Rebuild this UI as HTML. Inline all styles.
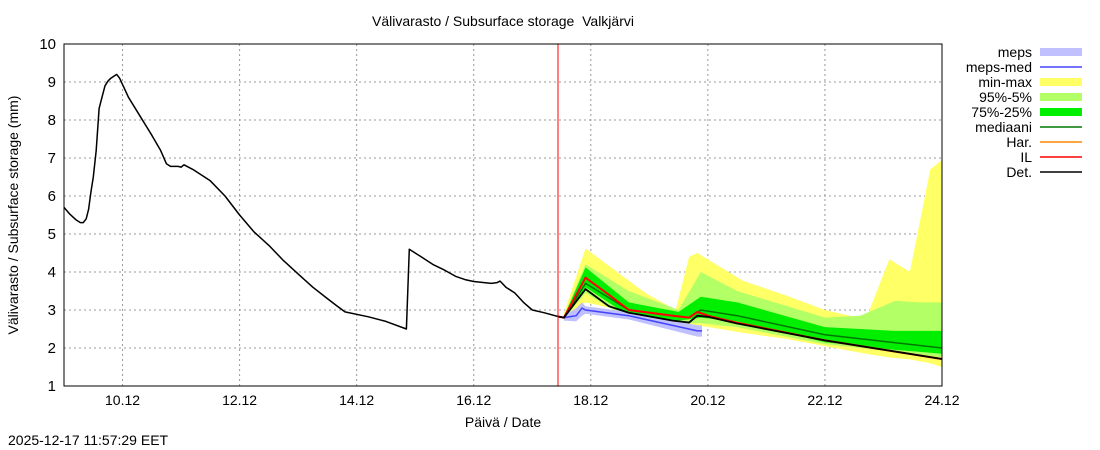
<!DOCTYPE html>
<html><head><meta charset="utf-8"><style>
body{margin:0;background:#fff;}
svg{display:block;font-family:"Liberation Sans",sans-serif;}
</style></head><body>
<svg id="c" width="1100" height="450"></svg>
<script>
const xTickDays=[10,12,14,16,18,20,22,24];
const xTickLabels=["10.12","12.12","14.12","16.12","18.12","20.12","22.12","24.12"];
const yTicks=[1,2,3,4,5,6,7,8,9,10];
const histDays=[9.0,9.1,9.2,9.28,9.33,9.38,9.42,9.46,9.5,9.55,9.6,9.65,9.7,9.75,9.8,9.85,9.9,9.95,10.1,10.3,10.5,10.65,10.75,10.82,10.95,11.0,11.05,11.2,11.5,11.75,12.0,12.25,12.5,12.75,13.0,13.25,13.5,13.65,13.8,14.2,14.5,14.85,14.9,15.1,15.3,15.5,15.7,15.85,16.0,16.3,16.4,16.45,16.55,16.7,16.85,17.0,17.2,17.44];
const histVals=[5.7,5.52,5.38,5.3,5.3,5.4,5.65,6.1,6.5,7.2,8.3,8.6,8.9,9.02,9.1,9.15,9.2,9.1,8.6,8.1,7.6,7.2,6.85,6.78,6.78,6.76,6.82,6.7,6.4,6.0,5.5,5.05,4.7,4.3,3.95,3.6,3.3,3.12,2.95,2.82,2.7,2.5,4.6,4.4,4.2,4.05,3.88,3.8,3.75,3.7,3.72,3.76,3.6,3.45,3.2,3.0,2.93,2.83];
const fDays=[17.44,17.54,17.91,18.31,18.65,19.4,19.68,19.82,20.0,20.48,22.0,24.0];
const detVals=[2.83,2.8,3.55,3.1,2.93,2.72,2.67,2.85,2.82,2.65,2.2,1.71];
const ilVals=[2.83,2.8,3.85,3.4,3.0,2.85,2.8,2.95,2.85,2.67,2.2,1.71];
const medDays=[17.54,17.91,18.65,19.68,19.88,20.5,22.0,24.0];
const medVals=[2.8,3.7,3.0,2.8,3.0,2.85,2.35,2.0];
const mepsDays=[17.54,17.75,17.85,17.91,18.65,19.82,19.9];
const mepsMed=[2.8,2.85,3.05,3.0,2.85,2.45,2.45];
const mepsLo=[2.72,2.7,2.85,2.9,2.75,2.3,2.3];
const mepsHi=[2.85,3.05,3.2,3.1,2.95,2.6,2.6];
const bDays=[17.54,17.91,18.65,19.5,19.88,20.5,22.0,22.6,23.2,23.6,24.0];
const q25=[2.78,3.6,2.85,2.72,2.8,2.7,2.15,2.05,1.95,1.9,1.85];
const q75=[2.82,4.12,3.2,2.95,3.35,3.2,2.55,2.5,2.45,2.45,2.45];
const p5=[2.76,3.45,2.75,2.65,2.65,2.55,2.1,2.0,1.9,1.82,1.75];
const p95=[2.85,4.2,3.5,3.0,4.0,3.5,2.8,2.85,3.24,3.2,3.2];
const mmDays=[17.54,17.91,18.94,19.45,19.68,19.82,20.6,21.3,22.0,22.7,23.1,23.45,23.8,24.0];
const mnVals=[2.75,3.2,2.85,2.6,2.6,2.6,2.4,2.25,2.05,1.85,1.75,1.7,1.6,1.5];
const mxVals=[2.9,4.62,3.44,3.0,4.4,4.5,3.77,3.4,3.0,2.75,4.34,4.0,6.7,6.95];
const legendLabels=["meps","meps-med","min-max","95%-5%","75%-25%","mediaani","Har.","IL","Det."];

const L=64,R=942,T=44,B=386,D0=9,D1=24,V0=1,V1=10;
const X=d=>L+(d-D0)/(D1-D0)*(R-L);
const Y=v=>B-(v-V0)/(V1-V0)*(B-T);
const svg=document.getElementById('c');
const NS='http://www.w3.org/2000/svg';
function mk(tag,attrs,parent){const e=document.createElementNS(NS,tag);for(const k in attrs)e.setAttribute(k,attrs[k]);(parent||svg).appendChild(e);return e;}
function txt(s,x,y,anchor,size){const t=mk('text',{x:x,y:y,'text-anchor':anchor,'font-size':size||14,fill:'#000'});t.textContent=s;return t;}
function lineP(ds,vs){return ds.map((d,i)=>(i?'L':'M')+X(d).toFixed(1)+','+Y(vs[i]).toFixed(1)).join('');}
function bandP(ds,lo,hi){let p=ds.map((d,i)=>(i?'L':'M')+X(d).toFixed(1)+','+Y(hi[i]).toFixed(1)).join('');for(let i=ds.length-1;i>=0;i--)p+='L'+X(ds[i]).toFixed(1)+','+Y(lo[i]).toFixed(1);return p+'Z';}

yTicks.forEach(v=>{
 if(v>V0&&v<V1){const g=mk('line',{x1:L,x2:R,y1:Y(v),y2:Y(v),stroke:'#999','stroke-dasharray':'2,3'});
 }
 const t=txt(String(v),56,Y(v)+5,'end',15);
 
});
xTickDays.forEach((d,i)=>{
 if(d<D1){const g=mk('line',{x1:X(d),x2:X(d),y1:T,y2:B,stroke:'#999','stroke-dasharray':'2,3'});
 }
 const t=txt(xTickLabels[i],X(d),405,'middle',14);
 
});

let e;
e=mk('path',{d:bandP(mmDays,mnVals,mxVals),fill:'#ffff66'});

e=mk('path',{d:bandP(bDays,p5,p95),fill:'#b3ff66'});

e=mk('path',{d:bandP(bDays,q25,q75),fill:'#00ee00'});

e=mk('path',{d:bandP(mepsDays,mepsLo,mepsHi),fill:'#c0c0ff'});

e=mk('path',{d:lineP(mepsDays,mepsMed),fill:'none',stroke:'#4444ff','stroke-width':1.5});

e=mk('path',{d:lineP(medDays,medVals),fill:'none',stroke:'#007700','stroke-width':1.5});

e=mk('path',{d:lineP(fDays,ilVals),fill:'none',stroke:'#ff0000','stroke-width':2});

e=mk('path',{d:lineP(fDays,detVals),fill:'none',stroke:'#000','stroke-width':1.8});

e=mk('path',{d:lineP(histDays,histVals),fill:'none',stroke:'#000','stroke-width':1.5,'stroke-linejoin':'round'});


e=mk('line',{x1:558,x2:558,y1:T,y2:B,stroke:'#ff0000','stroke-width':1});

e=mk('rect',{x:L,y:T,width:R-L,height:B-T,fill:'none',stroke:'#000','stroke-width':1});


e=txt('Välivarasto / Subsurface storage  Valkjärvi',503,26,'middle',14);
e.setAttribute('style','white-space:pre');

e=txt('Päivä / Date',503,427,'middle',14);

e=txt('Välivarasto / Subsurface storage (mm)',0,0,'middle',14);
e.setAttribute('transform','translate(18,215) rotate(-90)');

e=txt('2025-12-17 11:57:29 EET',8,445,'start',14);


const legColors=['#c0c0ff','#4444ff','#ffff66','#b3ff66','#00ee00','#007700','#ff8800','#ff0000','#000000'];
const legBand=[true,false,true,true,true,false,false,false,false];
legendLabels.forEach((s,i)=>{
 const y=52+i*15;
 const t=txt(s,1032,y+5,'end',14);
 
 const sw=legBand[i]?mk('rect',{x:1040,y:y-4,width:42,height:8,fill:legColors[i]}):mk('line',{x1:1040,x2:1082,y1:y,y2:y,stroke:legColors[i],'stroke-width':1.5});
 
});
</script>
</body></html>
